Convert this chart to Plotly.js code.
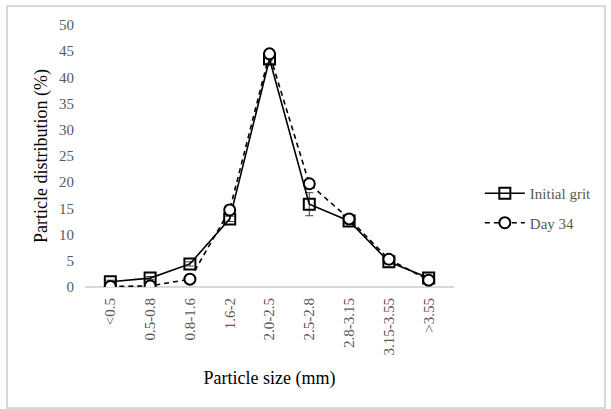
<!DOCTYPE html>
<html>
<head>
<meta charset="utf-8">
<script src="https://cdn.plot.ly/plotly-3.0.1.min.js"></script>
<style>
  html, body { margin: 0; padding: 0; background: #fff; }
  #frame { position: absolute; left: 6px; top: 5px; width: 596px; height: 400px; border: 2px solid #d9d9d9; pointer-events: none; }
  #chart { position: absolute; left: 0; top: 0; width: 611px; height: 409px; }
</style>
</head>
<body>
<div id="chart"></div>
<div id="frame"></div>
<script>
// Particle size classes (mm)
const sizeClasses = ['<0.5', '0.5-0.8', '0.8-1.6', '1.6-2', '2.0-2.5', '2.5-2.8', '2.8-3.15', '3.15-3.55', '>3.55'];

// Particle distribution (%)
const initialGrit = [1.0, 1.7, 4.4, 13.0, 43.5, 15.8, 12.6, 4.8, 1.7];
const initialGritErr = [0.3, 0.3, 0.4, 0.5, 0.8, 2.2, 0.5, 0.4, 0.3];
const day34 = [0.1, 0.2, 1.5, 14.7, 44.5, 19.7, 13.0, 5.3, 1.3];

const serif = 'Liberation Serif, Times New Roman, serif';

const traces = [
  {
    x: sizeClasses, y: initialGrit, name: 'Initial grit', legendgroup: 'g1',
    type: 'scatter', mode: 'lines+markers',
    line: { color: '#000', width: 1.6 },
    marker: { symbol: 'square-open', size: 11, color: '#000', line: { width: 2, color: '#000' } },
    error_y: { type: 'data', array: initialGritErr, visible: true, color: '#404040', thickness: 1, width: 4 }
  },
  {
    x: sizeClasses, y: day34, name: 'Day 34', legendgroup: 'g2',
    type: 'scatter', mode: 'lines+markers',
    line: { color: '#000', width: 1.6, dash: '5px,4px' },
    marker: { symbol: 'circle', size: 11, color: '#fff', line: { width: 2, color: '#000' } }
  }
];

const layout = {
  width: 611, height: 409,
  margin: { l: 85, r: 157, t: 25, b: 122 },
  paper_bgcolor: '#fff', plot_bgcolor: '#fff',
  font: { family: serif, size: 15, color: '#595959' },
  showlegend: true,
  legend: {
    x: 1.07, xanchor: 'left', y: 0.42, yanchor: 'top',
    font: { family: serif, size: 15, color: '#595959' },
    bgcolor: 'rgba(0,0,0,0)', tracegroupgap: 7, itemwidth: 40
  },
  xaxis: {
    type: 'category', tickangle: -90,
    showgrid: false, zeroline: false,
    showline: false, ticks: '', ticklabelstandoff: 7,
    tickfont: { family: serif, size: 15, color: '#595959' },
    title: { text: 'Particle size (mm)', font: { family: serif, size: 18, color: '#000' }, standoff: 16 }
  },
  yaxis: {
    range: [0, 50], dtick: 5, tick0: 0,
    showgrid: false, zeroline: true, zerolinecolor: '#d9d9d9', zerolinewidth: 1.5,
    showline: false, ticks: '', ticklabelstandoff: 10,
    tickfont: { family: serif, size: 15, color: '#595959' },
    title: { text: 'Particle distribution (%)', font: { family: serif, size: 18, color: '#000' }, standoff: 6 }
  }
};

Plotly.newPlot('chart', traces, layout, { displayModeBar: false, staticPlot: true });
</script>
</body>
</html>
